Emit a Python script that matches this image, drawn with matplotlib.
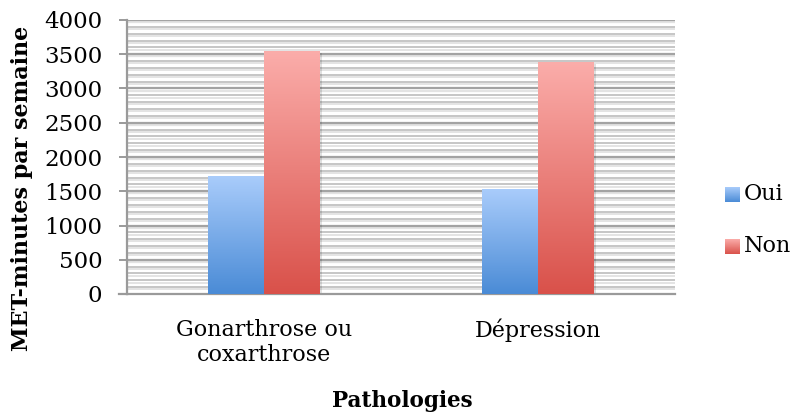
import numpy as np
import matplotlib
matplotlib.use("Agg")
import matplotlib.pyplot as plt
from matplotlib.colors import LinearSegmentedColormap
from matplotlib.patches import Rectangle
from matplotlib.lines import Line2D
import matplotlib.patheffects as pe

categories = ["Gonarthrose ou\ncoxarthrose", "Dépression"]
series_names = ["Oui", "Non"]
oui = [1710, 1520]
non = [3535, 3375]
yticks = [0, 500, 1000, 1500, 2000, 2500, 3000, 3500, 4000]

plt.rcParams['font.family'] = ['DejaVu Serif']

fig = plt.figure(figsize=(7.93, 4.16), dpi=100)
W, H = 793, 416
left, right, top, bottom = 127, 675, 20, 294
ax = fig.add_axes([left / W, 1 - bottom / H, (right - left) / W, (bottom - top) / H])

ax.set_xlim(-0.5, len(categories) - 0.5)
ax.set_ylim(0, 4000)

# gridlines
for v in np.arange(100, 4001, 100):
    major = (v % 500 == 0)
    ax.axhline(v, color='#a3a3a3' if major else '#c6c6c6', lw=1.6 if major else 1.4, zorder=1,
               path_effects=[pe.SimpleLineShadow(offset=(0, -1.6), shadow_color='#b0b0b0', alpha=0.35), pe.Normal()])

blue = LinearSegmentedColormap.from_list('b', ['#4a8bd6', '#a9ccfb'])
red = LinearSegmentedColormap.from_list('r', ['#d9514a', '#fbadaa'])
grad = np.linspace(0, 1, 256).reshape(-1, 1)

bw = 0.204
x = np.arange(len(categories))
for vals, cmap, off in [(oui, blue, -bw / 2), (non, red, bw / 2)]:
    for xi, v in zip(x, vals):
        x0 = xi + off - bw / 2
        ax.add_patch(Rectangle((x0 + 0.006, -30), bw, v + 30 - 15, facecolor='#000000', alpha=0.12,
                               edgecolor='none', zorder=2))
        ax.bar(xi + off, v, bw, color='none', zorder=3)
        ax.imshow(grad, cmap=cmap, origin='lower', aspect='auto',
                  extent=(x0, x0 + bw, 0, v), zorder=3, interpolation='bilinear')

ax.set_xlim(-0.5, len(categories) - 0.5)
ax.set_ylim(0, 4000)

for s in ['top', 'right']:
    ax.spines[s].set_visible(False)
for s in ['left', 'bottom']:
    ax.spines[s].set_color('#9a9a9a')
    ax.spines[s].set_linewidth(1.6)
ax.spines['left'].set_zorder(5)
fig.add_artist(Line2D([119 / W, left / W], [1 - bottom / H, 1 - bottom / H], color='#9a9a9a', lw=1.6))

ax.set_yticks(yticks)
ax.set_yticklabels([str(t) for t in yticks], fontsize=16.5)
ax.tick_params(axis='y', length=5.8, width=1.4, color='#9a9a9a', pad=12)
ax.set_xticks(x)
ax.set_xticklabels(categories, fontsize=16, linespacing=1.2)
ax.tick_params(axis='x', length=0, pad=18)

fig.text(402 / W, 1 - 401 / H, "Pathologies", ha='center', va='center',
         fontsize=15.5, fontweight='bold')
fig.text(22 / W, 1 - 188 / H, "MET-minutes par semaine", ha='center', va='center',
         rotation=90, fontsize=16, fontweight='bold')

# legend
leg_colors = [('#4a8bd6', '#a9ccfb'), ('#d9514a', '#fbadaa')]
for i, (name, (c0, c1)) in enumerate(zip(series_names, leg_colors)):
    yc = 194.5 + 52 * i
    lax = fig.add_axes([725 / W, 1 - (yc + 7.5) / H, 15 / W, 15 / H])
    lax.imshow(grad, cmap=LinearSegmentedColormap.from_list('l%d' % i, [c0, c1]), origin='lower',
               aspect='auto', extent=(0, 1, 0, 1))
    lax.set_axis_off()
    fig.text(744 / W, 1 - yc / H, name, ha='left', va='center', fontsize=16)

fig.savefig("out.png", dpi=100)
